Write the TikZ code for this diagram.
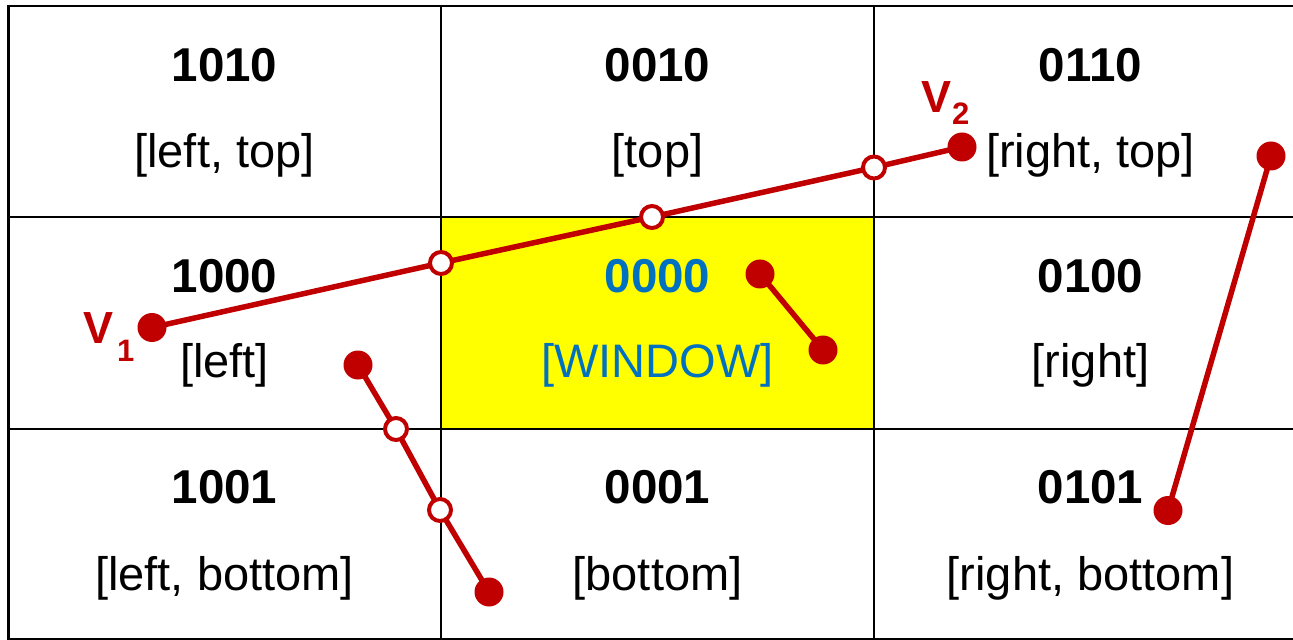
\documentclass[tikz,border=0pt]{standalone}
\usepackage{fontspec}
\setmainfont{Liberation Sans}
\definecolor{clipred}{HTML}{C00000}
\definecolor{winblue}{HTML}{0070C0}
\definecolor{winfill}{RGB}{255,255,0}
\pgfdeclarelayer{gridlayer}
\pgfdeclarelayer{seglayer}
\pgfsetlayers{gridlayer,seglayer,main}
\begin{document}
\begin{tikzpicture}[x=1bp,y=-1bp,
  code/.style={anchor=base, font=\fontsize{47.5bp}{47.5bp}\selectfont\bfseries},
  lbl/.style={anchor=base, font=\fontsize{47bp}{47bp}\selectfont},
  endpt/.style={circle, fill=clipred, inner sep=0pt, minimum size=29bp},
  cutpt/.style={circle, draw=clipred, fill=white, line width=4bp, inner sep=0pt, minimum size=22bp},
  seg/.style={draw=clipred, line width=5.5bp},
  vlabel/.style={anchor=base west, text=clipred, inner sep=0pt, font=\fontsize{45bp}{45bp}\selectfont\bfseries},
  gridline/.style={line width=2.6bp}]
\useasboundingbox (0,0) rectangle (1293,640);

% region grid with the clipping window
\begin{pgfonlayer}{gridlayer}
  \fill[winfill] (441,217) rectangle (874,429);
  \draw[gridline] (1310,6) -- (8.5,6) -- (8.5,639) -- (1310,639);
  \draw[gridline] (441,6) -- (441,639) (874,6) -- (874,639)
                  (8.5,217) -- (1310,217) (8.5,429) -- (1310,429);
\end{pgfonlayer}

% outcodes and region names
\node[code] (c1010) at (224.5,82) {1010};
\node[lbl]  (l1010) at (224.5,168) {[left, top]};
\node[code] (c0010) at (657.5,82) {0010};
\node[lbl]  (l0010) at (657.5,168) {[top]};
\node[code] (c0110) at (1090.5,82) {0110};
\node[lbl]  (l0110) at (1090.5,168) {[right, top]};

\node[code] (c1000) at (224.5,293) {1000};
\node[lbl]  (l1000) at (224.5,378) {[left]};
\node[code, text=winblue] (c0000) at (657.5,293) {0000};
\node[lbl, text=winblue]  (l0000) at (657.5,378) {[WINDOW]};
\node[code] (c0100) at (1090.5,293) {0100};
\node[lbl]  (l0100) at (1090.5,378) {[right]};

\node[code] (c1001) at (224.5,503) {1001};
\node[lbl]  (l1001) at (224.5,590) {[left, bottom]};
\node[code] (c0001) at (657.5,503) {0001};
\node[lbl]  (l0001) at (657.5,590) {[bottom]};
\node[code] (c0101) at (1090.5,503) {0101};
\node[lbl]  (l0101) at (1090.5,590) {[right, bottom]};

% line endpoints
\node[endpt] (v1) at (152,327.5) {};
\node[endpt] (v2) at (962,147) {};
\node[endpt] (a1) at (760,274) {};
\node[endpt] (a2) at (823,350) {};
\node[endpt] (b1) at (358,365) {};
\node[endpt] (b2) at (489,592) {};
\node[endpt] (d1) at (1271,156) {};
\node[endpt] (d2) at (1168,510.5) {};

% intersections with the region boundaries
\node[cutpt] (x1) at (441,263) {};
\node[cutpt] (x2) at (652,217) {};
\node[cutpt] (x3) at (874,167.5) {};
\node[cutpt] (y1) at (396,429) {};
\node[cutpt] (y2) at (440,510) {};

\begin{pgfonlayer}{seglayer}
  \draw[seg] (v1.center) -- (x1.center) -- (x2.center) -- (x3.center) -- (v2.center);
  \draw[seg] (a1.center) -- (a2.center);
  \draw[seg] (b1.center) -- (y1.center) -- (y2.center) -- (b2.center);
  \draw[seg] (d1.center) -- (d2.center);
\end{pgfonlayer}

% endpoint names
\node[vlabel] (v1lab) at (83,343.5) {V\kern4bp\raisebox{-18.5bp}{\fontsize{31bp}{31bp}\selectfont 1}};
\node[vlabel] (v2lab) at (921,113) {V\kern1bp\raisebox{-12bp}{\fontsize{31bp}{31bp}\selectfont 2}};
\end{tikzpicture}
\end{document}
